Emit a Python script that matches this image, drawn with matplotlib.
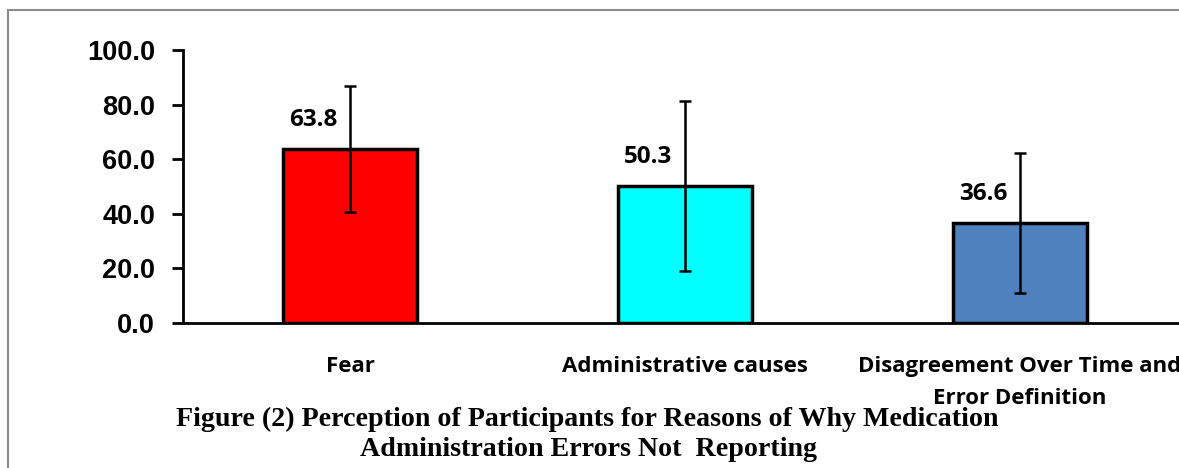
import matplotlib.pyplot as plt
from matplotlib.patches import Rectangle

# data
categories = ['Fear', 'Administrative causes', 'Disagreement Over Time and\nError Definition']
means = [63.8, 50.3, 36.6]
sds = [23.1, 31.2, 25.5]
colors = ['#FF0000', '#00FFFF', '#4F81BD']
yticks = [0, 20, 40, 60, 80, 100]

fig = plt.figure(figsize=(11.79, 4.68), dpi=100)
ax = fig.add_axes([183 / 1179, 145 / 468, 1004 / 1179, 273 / 468])

x = range(len(categories))
ax.bar(x, means, width=0.4, color=colors, edgecolor='black', linewidth=2.5, zorder=2)
ax.errorbar(x, means, yerr=sds, fmt='none', ecolor='black', elinewidth=1.8,
            capsize=4.5, capthick=1.8, zorder=3)

for i, v in enumerate(means):
    ax.text(i - 0.11, v + 10.5, f'{v:.1f}', ha='center', va='center',
            fontsize=17.5, fontweight='bold', family='Open Sans')

ax.set_xlim(-0.5, 2.5)
ax.set_ylim(0, 100)
ax.set_yticks(yticks)
ax.set_yticklabels([f'{t:.1f}' for t in yticks], fontsize=19.5, fontweight='bold',
                   family='Liberation Sans')
ax.set_xticks(list(x))
ax.set_xticklabels(categories, fontsize=16, fontweight='bold', family='Open Sans',
                   linespacing=1.65)
ax.tick_params(axis='y', length=8, width=2, pad=12)
ax.tick_params(axis='x', length=0, pad=24)
for s in ['top', 'right']:
    ax.spines[s].set_visible(False)
ax.spines['left'].set_linewidth(2)
ax.spines['bottom'].set_linewidth(2)

title_font = dict(ha='center', va='center', fontsize=20.2, fontweight='bold',
                  family='Liberation Serif')
fig.text(587 / 1179, 1 - 419 / 468,
         'Figure (2) Perception of Participants for Reasons of Why Medication',
         **title_font)
fig.text(588 / 1179, 1 - 450 / 468, 'Administration Errors Not  Reporting', **title_font)

# gray frame around the figure
fig.add_artist(Rectangle((8 / 1179, -0.1), 1.2, 1 - 10 / 468 + 0.1,
                         transform=fig.transFigure, fill=False,
                         edgecolor='#8c8c8c', linewidth=1.5))

fig.savefig('out.png', dpi=100)
